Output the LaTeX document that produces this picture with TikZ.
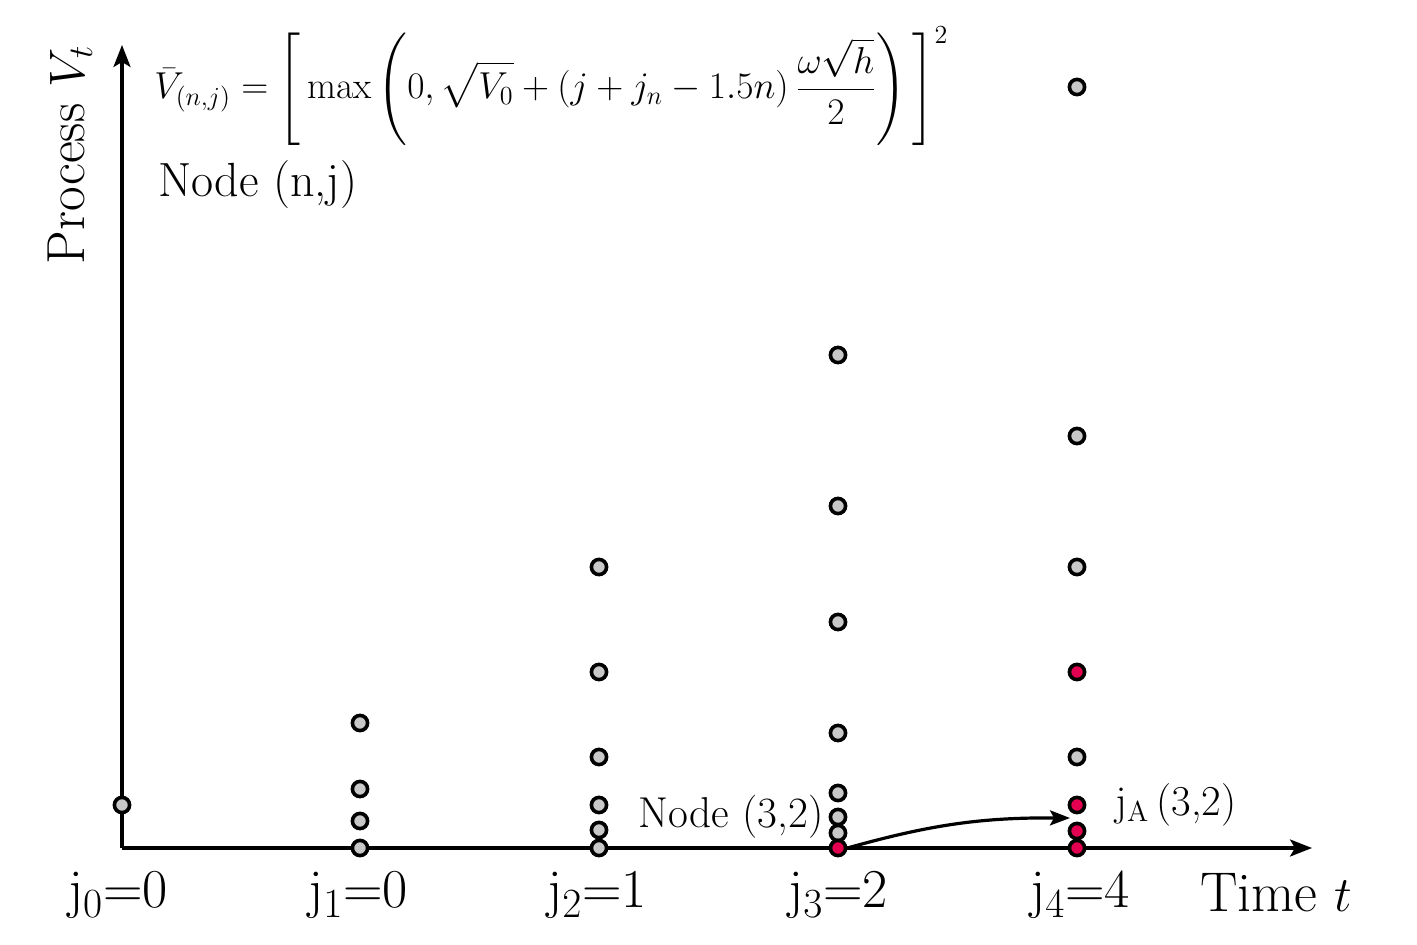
\documentclass[tikz,border=0pt]{standalone}
\usepackage{amsmath}
\usetikzlibrary{arrows.meta}
\definecolor{dotgray}{RGB}{200,200,200}
\definecolor{dotred}{RGB}{228,0,80}
\begin{document}
\begin{tikzpicture}[x=0.5pt,y=-0.5pt,
 dot/.style={circle,draw=black,line width=1.8pt,minimum size=7.6pt,inner sep=0pt,fill=dotgray},
 reddot/.style={dot,fill=dotred},
 axis/.style={line width=1.6pt,-{Stealth[length=11pt,width=8.5pt,inset=2.5pt]}},
 jlbl/.style={font=\fontsize{27.4}{32}\selectfont,inner sep=0pt},
 txt/.style={inner sep=0pt}]
\useasboundingbox (0,0) rectangle (1417,945);
\coordinate (O) at (122,848);
\coordinate (ytip) at (122,45);
\coordinate (xtip) at (1312,848);
\draw[axis] (O) -- (ytip);
\draw[axis] (O) -- (xtip);
% column 0
\node[dot] (a0) at (122,805) {};
% column 1
\node[dot] (b1) at (360,723) {};
\node[dot] (b2) at (360,789) {};
\node[dot] (b3) at (360,821) {};
\node[dot] (b4) at (360,848) {};
% column 2
\node[dot] (c1) at (599,567) {};
\node[dot] (c2) at (599,672) {};
\node[dot] (c3) at (599,757) {};
\node[dot] (c4) at (599,805) {};
\node[dot] (c5) at (599,830) {};
\node[dot] (c6) at (599,848) {};
% column 3
\node[dot] (d1) at (838,355) {};
\node[dot] (d2) at (838,506) {};
\node[dot] (d3) at (838,622) {};
\node[dot] (d4) at (838,733) {};
\node[dot] (d5) at (838,793) {};
\node[dot] (d6) at (838,817) {};
\node[dot] (d7) at (838,833) {};
\node[reddot] (d8) at (838,848) {};
% column 4
\node[dot] (e1) at (1077,87) {};
\node[dot] (e2) at (1077,436) {};
\node[dot] (e3) at (1077,567) {};
\node[reddot] (e4) at (1077,672) {};
\node[dot] (e5) at (1077,757) {};
\node[reddot] (e6) at (1077,805) {};
\node[reddot] (e7) at (1077,831) {};
\node[reddot] (e8) at (1077,848) {};
% arrow
\coordinate (atip) at (1070,818);
\draw[line width=1.6pt,-{Stealth[length=10pt,width=7.5pt,inset=2pt]}] (d8.east) to[bend left=8] (atip);
% labels
\node[jlbl] (l0) at (118,895) {j$_0$=0};
\node[jlbl] (l1) at (358,895) {j$_1$=0};
\node[jlbl] (l2) at (597,895) {j$_2$=1};
\node[jlbl] (l3) at (838,895) {j$_3$=2};
\node[jlbl] (l4) at (1080,895) {j$_4$=4};
\node[txt,font=\fontsize{28}{32}\selectfont] (tt) at (1276,893) {Time $t$};
\node[txt,font=\fontsize{26.8}{30}\selectfont,rotate=90] (pv) at (70,155) {Process $V_t$};
\node[txt,font=\fontsize{24}{28}\selectfont,anchor=west] (nnj) at (158,185) {Node (n,j)};
\node[txt,font=\fontsize{21.6}{25}\selectfont] (n32) at (731,817) {Node (3,2)};
\node[txt,font=\fontsize{21.3}{25}\selectfont,anchor=west] (ja) at (1115,805) {j$_{\rm A}$\,(3,2)};
\node[txt,font=\fontsize{18}{22}\selectfont,anchor=west] (eq) at (154,86)
 {\resizebox{397pt}{!}{$\displaystyle \bar{V}_{(n,j)} = \Biggl[\,\max\,\Biggl(0,\sqrt{V_0}+(j+j_n-1.5n)\,\frac{\omega\sqrt{h}}{2}\Biggr)\,\Biggr]^2$}};
\end{tikzpicture}
\end{document}
